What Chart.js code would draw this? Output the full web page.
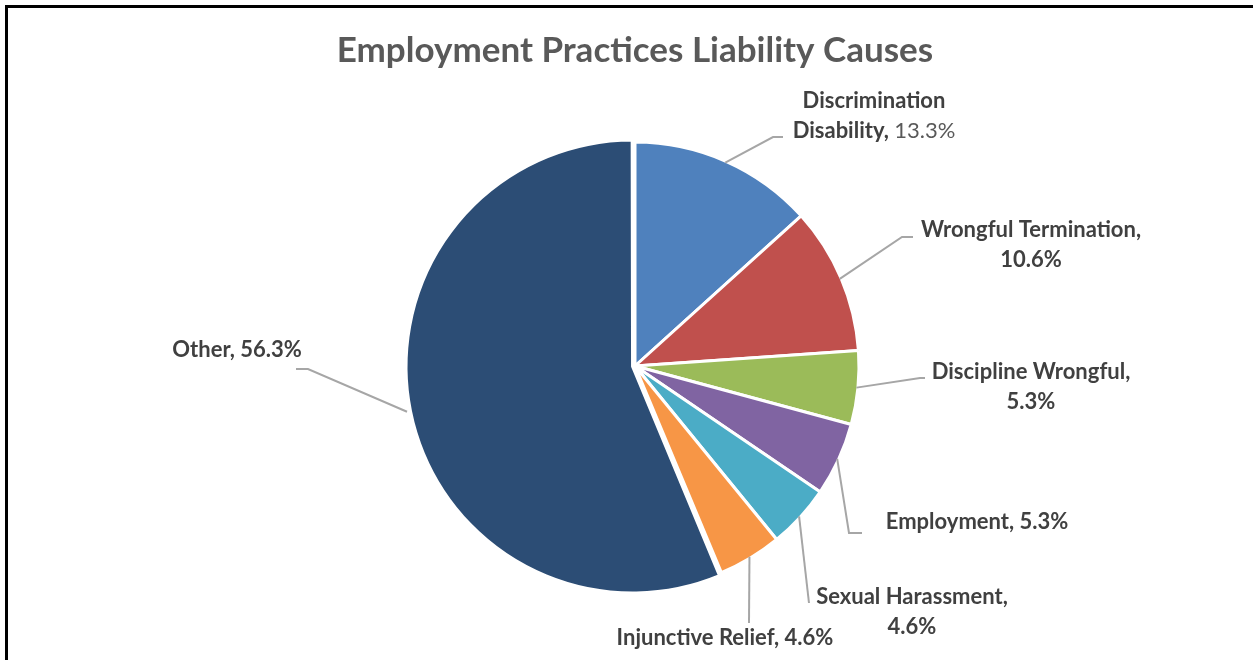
<!DOCTYPE html>
<html>
<head>
<meta charset="utf-8">
<script src="https://cdn.jsdelivr.net/npm/chart.js@4.4.0/dist/chart.umd.min.js"></script>
<style>
  html, body { margin: 0; padding: 0; background: #fff; overflow: hidden; }
  #wrap { width: 1253px; height: 660px; }
</style>
</head>
<body>
<div id="wrap"><canvas id="causesChart"></canvas></div>
<script>
// Causes and their share of claims (%)
const causes = [
  "Discrimination Disability",
  "Wrongful Termination",
  "Discipline Wrongful",
  "Employment",
  "Sexual Harassment",
  "Injunctive Relief",
  "Other",
];
const shares = [13.3, 10.6, 5.3, 5.3, 4.6, 4.6, 56.3];
const sliceColors = ["#4F81BD", "#C0504D", "#9BBB59", "#8064A2", "#4BACC6", "#F79646", "#2C4D75"];

// How each label is broken into lines; {v} is replaced by the share
const labelTemplates = [
  ["Discrimination", "Disability, {v}"],
  ["Wrongful Termination,", "{v}"],
  ["Discipline Wrongful,", "{v}"],
  ["Employment, {v}"],
  ["Sexual Harassment,", "{v}"],
  ["Injunctive Relief, {v}"],
  ["Other, {v}"],
];
// the first label shows its value in a lighter, regular weight
const plainValue = [true, false, false, false, false, false, false];

// label placement relative to the pie centre: text centre, first line y, leader elbow and end
const labelLayout = [
  { x: 239, y: -265, elbow: [138, -229], end: [148, -229] },
  { x: 396, y: -136, elbow: [267, -129], end: [278, -129] },
  { x: 396, y: 6, elbow: [285, 12], end: [290, 12] },
  { x: 342, y: 156, elbow: [214, 167], end: [227, 167] },
  { x: 277, y: 231, elbow: [174, 237], end: [174, 237] },
  { x: 90, y: 272, elbow: [114, 257], end: [114, 257] },
  { x: -398, y: -16, elbow: [-327, 3], end: [-339, 3] },
];

const FONT = "Lato, Calibri, Carlito, sans-serif";
const LINE_GAP = 30;

// black frame along the top and left edge
const framePlugin = {
  id: "frame",
  beforeDraw(chart) {
    const ctx = chart.ctx;
    ctx.save();
    ctx.fillStyle = "#fff";
    ctx.fillRect(0, 0, chart.width, chart.height);
    ctx.fillStyle = "#000";
    ctx.fillRect(5, 5, chart.width - 5, 3);
    ctx.fillRect(5, 5, 3, chart.height - 5);
    ctx.restore();
  },
};

function drawSegments(ctx, segments, cx, cy) {
  let total = 0;
  segments.forEach((s) => {
    ctx.font = s.font;
    s.w = ctx.measureText(s.text).width;
    total += s.w;
  });
  let x = cx - total / 2;
  segments.forEach((s) => {
    ctx.font = s.font;
    ctx.fillStyle = s.color;
    ctx.fillText(s.text, x, cy);
    x += s.w;
  });
}

// leader lines and data labels
const labelPlugin = {
  id: "pieLabels",
  afterDatasetsDraw(chart) {
    const ctx = chart.ctx;
    const arcs = chart.getDatasetMeta(0).data;
    const boldFont = "bold 22px " + FONT;
    const plainFont = "22px " + FONT;

    arcs.forEach((arc, i) => {
      const { x, y, startAngle, endAngle, outerRadius } = arc.getProps(
        ["x", "y", "startAngle", "endAngle", "outerRadius"],
        true
      );
      const mid = (startAngle + endAngle) / 2;
      const edge = outerRadius - 1.5 + (arc.options.offset || 0);
      const sx = x + Math.cos(mid) * edge;
      const sy = y + Math.sin(mid) * edge;
      const lay = labelLayout[i];

      ctx.save();
      ctx.strokeStyle = "#A6A6A6";
      ctx.lineWidth = 2;
      ctx.beginPath();
      ctx.moveTo(sx, sy);
      ctx.lineTo(x + lay.elbow[0], y + lay.elbow[1]);
      ctx.lineTo(x + lay.end[0], y + lay.end[1]);
      ctx.stroke();

      ctx.textBaseline = "middle";
      ctx.textAlign = "left";
      const value = shares[i].toFixed(1) + "%";
      labelTemplates[i].forEach((line, k) => {
        const ly = y + lay.y + k * LINE_GAP;
        let segments;
        if (plainValue[i] && line.includes("{v}")) {
          segments = [
            { text: line.replace("{v}", ""), font: boldFont, color: "#404040" },
            { text: value, font: plainFont, color: "#595959" },
          ];
        } else {
          segments = [{ text: line.replace("{v}", value), font: boldFont, color: "#404040" }];
        }
        drawSegments(ctx, segments, x + lay.x, ly);
      });
      ctx.restore();
    });
  },
};

const chart = new Chart(document.getElementById("causesChart"), {
  type: "pie",
  data: {
    labels: causes,
    datasets: [
      {
        data: shares,
        backgroundColor: sliceColors,
        borderColor: "#fff",
        borderWidth: 3,
        offset: [0, 0, 0, 0, 0, 0, 10],
      },
    ],
  },
  options: {
    responsive: true,
    maintainAspectRatio: false,
    animation: false,
    radius: 224,
    layout: { padding: { left: 17, right: 0, top: 0, bottom: 0 } },
    plugins: {
      legend: { display: false },
      tooltip: { enabled: false },
      title: {
        display: true,
        text: "Employment Practices Liability Causes",
        color: "#595959",
        font: { family: FONT, size: 35, weight: "bold" },
        padding: { top: 30, bottom: 0 },
      },
    },
  },
  plugins: [framePlugin, labelPlugin],
});
</script>
</body>
</html>
